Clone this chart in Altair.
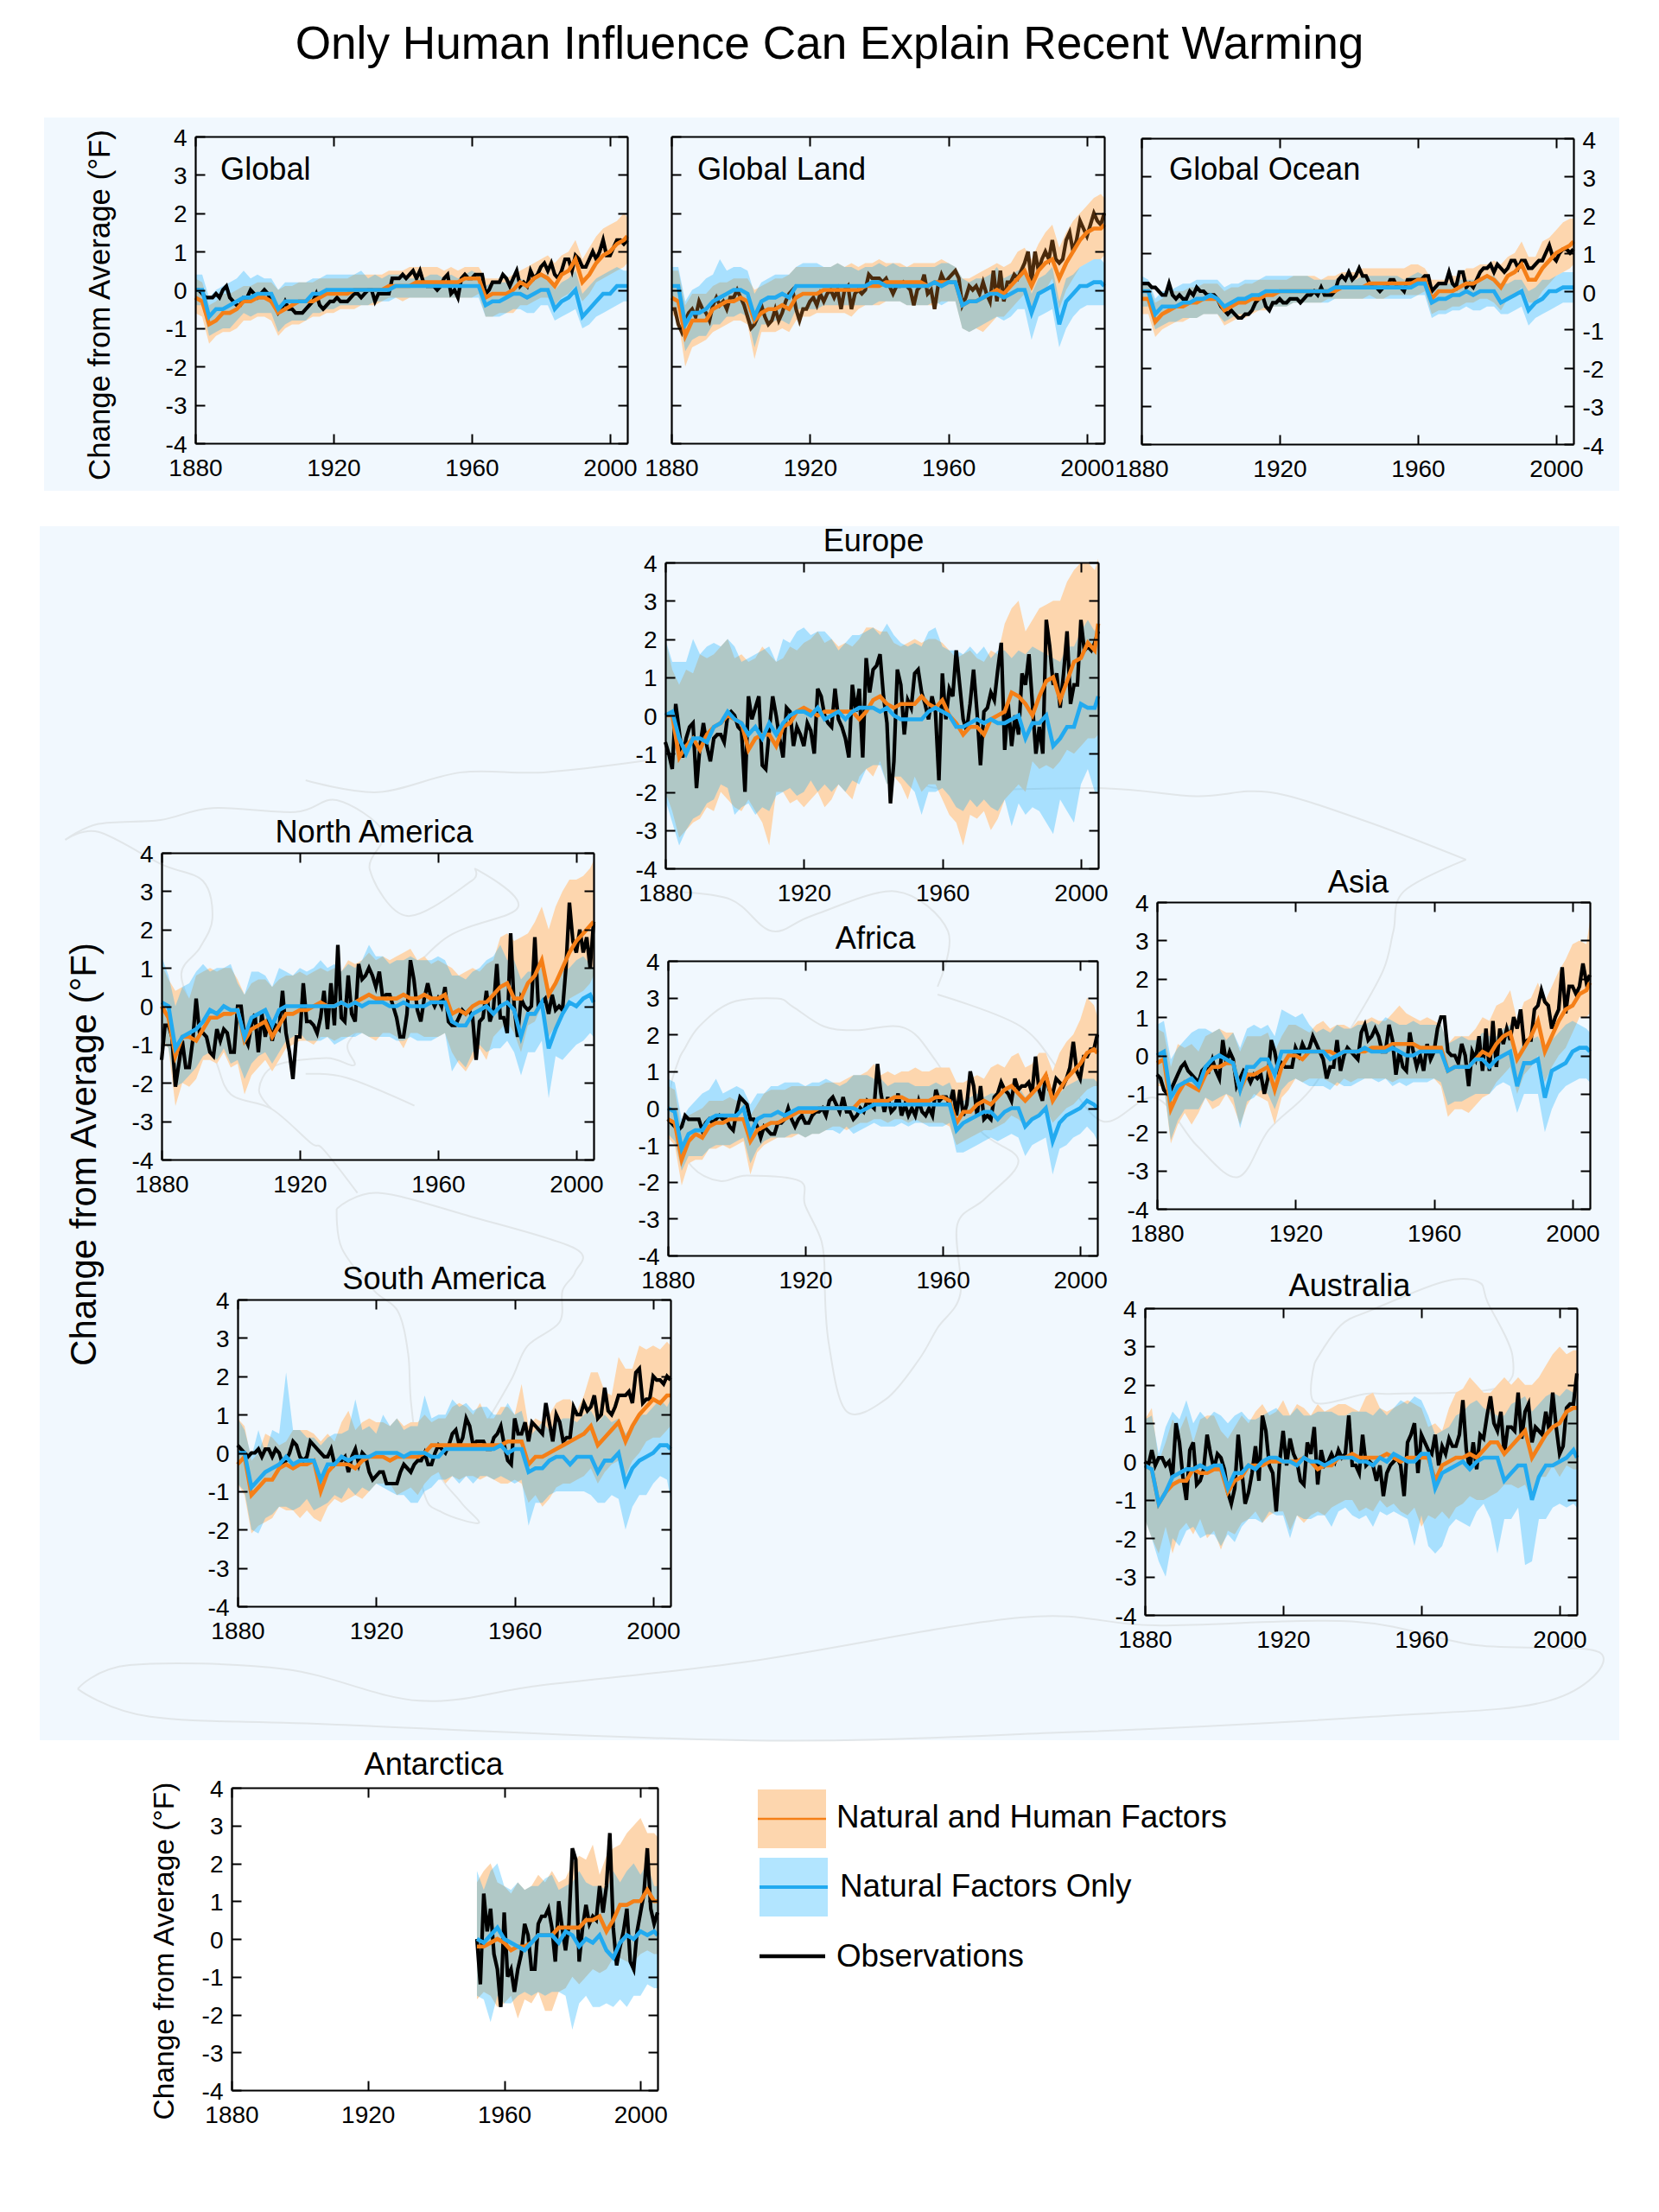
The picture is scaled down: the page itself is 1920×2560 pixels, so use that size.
import altair as alt, pandas as pd

FONT = "Liberation Sans"
M = 8
W, H = 1904, 2544
TITLE = "Only Human Influence Can Explain Recent Warming"
YLAB = "Change from Average (°F)"

# all values in tenths of a degree F; model series and bands every 2 years (last point 2005), observations yearly
GLOBAL_OBS=[0,0,-1,-2,-2,-2,-1,-2,0,1,-2,-3,-4,-4,-2,-2,0,-1,-2,-1,0,-1,-3,-4,-6,-5,-3,-5,-5,-6,-6,-6,-5,-4,-3,-1,-4,-5,-4,-3,-3,-2,-3,-3,-3,-2,-1,-1,-2,-1,0,0,-3,-1,-1,-1,-1,3,3,3,4,3,4,5,3,5,2,1,1,1,0,1,3,4,-1,0,-2,3,4,3,3,4,4,4,-1,0,2,2,2,4,3,1,3,5,1,2,1,5,3,4,6,7,5,7,4,3,5,8,8,5,9,8,6,6,8,10,8,10,13,9,9,11,13,13,12,13]
GLOBAL_OL=[-2,-3,-9,-8,-6,-6,-5,-3,-3,-2,-2,-3,-6,-5,-4,-3,-3,-3,-2,-1,-1,-1,-1,0,0,0,0,0,1,1,1,1,2,2,2,2,2,2,2,3,3,3,-2,-1,-1,-1,0,2,1,3,4,3,1,4,5,8,2,4,7,9,10,12,13,14]
GLOBAL_BL=[0,0,-7,-5,-5,-4,-3,-2,-2,-1,-1,-1,-5,-3,-3,-3,-3,-1,-1,0,0,0,0,0,0,0,0,0,0,1,1,1,1,1,1,1,1,1,1,1,1,1,-4,-3,-3,-2,-1,-1,-2,-1,0,0,-5,-3,-2,0,-7,-5,-3,-1,-1,1,1,1]
GLOBAL_OH=[3,2,-4,-3,-1,-1,0,1,1,2,2,2,0,1,1,2,2,2,3,3,3,3,3,4,4,4,4,4,5,5,5,6,6,6,6,6,5,6,5,6,6,6,3,3,3,3,4,5,6,7,8,9,7,9,10,13,8,11,14,16,17,18,20,19]
GLOBAL_OO=[-6,-7,-14,-12,-11,-11,-10,-8,-8,-7,-7,-8,-12,-10,-9,-9,-8,-7,-7,-6,-6,-5,-5,-5,-4,-4,-4,-3,-2,-2,-3,-2,-2,-2,-2,-2,-2,-2,-2,-2,-2,-1,-7,-7,-6,-6,-6,-4,-4,-3,-2,-2,-4,-2,-1,1,-3,-1,2,3,4,5,6,7]
GLOBAL_BH=[4,4,-2,0,1,2,3,5,3,4,3,3,0,2,2,2,2,3,3,4,4,4,4,4,5,3,4,3,4,4,4,3,3,3,4,4,3,4,3,4,5,4,1,2,2,2,3,3,2,3,4,4,0,2,3,5,-1,1,3,4,5,6,5,5]
GLOBAL_BO=[-4,-4,-12,-11,-10,-10,-8,-6,-7,-6,-6,-6,-11,-9,-8,-8,-8,-6,-6,-5,-5,-4,-4,-4,-4,-4,-3,-3,-3,-2,-2,-2,-2,-2,-2,-2,-2,-2,-2,-2,-2,-2,-7,-7,-7,-6,-5,-5,-6,-6,-4,-4,-8,-7,-6,-5,-10,-9,-7,-6,-5,-4,-3,-3]

LAND_OBS=[-5,-5,-9,-11,-8,-6,-5,-7,-3,-5,-6,-8,-4,-2,-4,-3,-5,-2,-2,0,-2,-4,-7,-10,-9,-7,-4,-7,-9,-8,-5,-8,-6,-3,-1,0,-5,-8,-5,-5,-3,-2,-4,-1,-3,-1,0,-2,0,-5,0,1,-5,-1,0,-1,0,4,3,3,3,2,3,1,-1,1,1,2,1,0,-4,0,1,4,-1,0,-5,1,4,2,3,4,5,3,-4,-2,1,0,1,-1,2,-1,-3,5,-3,5,-3,2,2,4,3,5,7,10,2,10,5,8,10,8,13,8,7,8,13,15,10,13,18,16,14,17,20,18,17,20]
LAND_OL=[-2,-3,-12,-8,-8,-8,-5,-4,-3,-3,-2,-3,-8,-6,-5,-5,-4,-5,-2,-1,-1,-1,0,0,0,0,0,0,1,1,1,2,2,2,2,2,2,1,2,2,2,2,-4,-3,-3,-2,-1,0,-1,1,3,5,1,5,7,8,3,7,10,13,15,16,16,17]
LAND_BL=[1,1,-9,-6,-6,-5,-3,-2,-1,0,0,-1,-7,-3,-2,-2,-1,-2,1,1,1,1,1,1,1,1,1,1,1,2,2,1,1,1,1,1,1,1,2,1,2,2,-4,-3,-3,-2,-1,-1,-2,-1,0,0,-6,-1,0,1,-9,-3,-1,1,1,2,2,1]
LAND_OH=[5,5,-4,-1,-1,-1,1,2,2,3,3,3,0,1,2,3,3,4,6,6,6,6,6,6,7,6,7,6,7,7,8,7,7,7,6,7,7,7,7,8,7,6,3,3,4,5,6,7,6,7,10,11,8,12,15,17,11,15,18,20,22,24,25,24]
LAND_OO=[-6,-8,-20,-15,-14,-13,-11,-10,-9,-8,-8,-9,-18,-11,-11,-11,-10,-11,-8,-7,-7,-6,-6,-6,-6,-6,-7,-5,-4,-4,-4,-3,-3,-3,-4,-4,-4,-4,-4,-3,-3,-3,-10,-11,-10,-11,-9,-7,-7,-5,-3,-1,-5,-1,0,3,-5,0,3,6,7,8,8,9]
LAND_BH=[6,6,-3,0,1,3,4,8,5,6,6,5,-1,2,3,4,4,4,6,7,7,7,6,6,7,6,6,5,6,6,7,6,7,6,6,6,6,6,6,7,7,6,3,2,3,3,4,6,3,4,5,6,-1,3,4,6,-3,3,4,6,7,8,8,7]
LAND_BO=[-4,-5,-16,-13,-12,-12,-9,-9,-7,-7,-6,-7,-15,-9,-9,-8,-8,-9,-5,-5,-5,-5,-4,-4,-4,-4,-4,-4,-4,-4,-3,-3,-3,-3,-4,-4,-4,-4,-3,-4,-3,-3,-10,-11,-10,-9,-8,-7,-8,-7,-5,-5,-13,-7,-6,-5,-15,-10,-7,-5,-4,-4,-4,-4]

OCEAN_OBS=[2,2,2,1,1,0,-1,-1,2,-1,-2,-1,-2,-2,0,-1,1,0,0,-1,-1,-1,-2,-4,-5,-6,-5,-6,-7,-7,-6,-6,-5,-3,-2,-1,-4,-5,-3,-3,-2,-3,-3,-2,-2,-2,-3,-2,-1,-1,0,-1,1,-1,-1,-1,0,3,4,3,5,3,4,6,4,4,2,1,1,0,1,1,3,3,1,1,0,3,3,3,3,3,4,4,0,1,2,2,2,5,2,1,5,5,1,2,1,3,5,6,6,7,5,7,6,5,6,8,8,6,8,8,6,6,7,8,8,10,12,9,8,10,11,11,10,11]
OCEAN_OL=[-2,-2,-8,-6,-5,-4,-4,-3,-3,-2,-2,-2,-5,-4,-3,-3,-2,-2,-1,-1,0,0,0,0,0,0,0,0,0,1,1,1,1,2,2,2,2,2,2,2,3,3,-2,0,0,0,1,2,2,3,4,3,1,4,5,7,3,3,6,8,10,11,12,13]
OCEAN_BL=[0,0,-6,-4,-4,-4,-3,-3,-2,-2,-1,-2,-4,-3,-2,-2,-1,-1,0,0,0,0,0,0,0,0,0,0,1,1,1,1,1,1,1,1,1,1,1,1,2,2,-3,-2,-2,-1,-1,0,-1,0,0,0,-3,-2,-1,0,-5,-3,-2,0,0,1,1,1]
OCEAN_OH=[2,2,-3,-2,0,0,0,1,1,2,2,2,0,1,1,2,2,3,3,3,3,3,4,4,4,4,3,4,4,5,5,5,6,6,6,6,6,6,6,7,7,6,3,3,3,4,4,6,6,7,7,8,7,9,10,13,9,9,13,14,16,18,19,19]
OCEAN_OO=[-6,-6,-12,-10,-9,-8,-8,-7,-7,-6,-6,-6,-9,-8,-7,-7,-6,-5,-5,-4,-4,-4,-3,-3,-3,-3,-3,-2,-2,-2,-2,-2,-2,-1,-2,-2,-1,-1,-1,-1,-1,0,-6,-5,-5,-4,-4,-3,-3,-2,-2,-3,-5,-2,-1,1,-3,-3,0,2,4,5,6,7]
OCEAN_BH=[4,3,-2,0,0,1,2,2,3,3,3,3,1,2,2,3,3,3,4,4,4,4,4,4,4,3,3,3,3,4,4,3,4,4,4,4,4,4,3,4,5,4,1,2,2,2,3,3,3,3,4,4,2,2,3,3,0,1,3,3,4,5,5,5]
OCEAN_BO=[-4,-4,-10,-9,-8,-8,-7,-7,-7,-6,-6,-6,-8,-7,-6,-6,-5,-5,-4,-4,-4,-4,-3,-3,-3,-3,-3,-3,-2,-2,-2,-2,-2,-2,-2,-2,-2,-2,-2,-2,-1,-1,-7,-6,-6,-5,-5,-4,-5,-5,-4,-4,-6,-6,-5,-4,-9,-7,-6,-5,-4,-3,-3,-3]

EUROPE_OBS=[-7,-10,-14,3,-4,-11,-6,-3,-2,-19,-8,-2,-8,-12,-6,-5,-5,-7,0,1,0,-3,-4,-20,5,-1,2,5,-13,-14,-4,5,0,-6,-11,2,1,-8,-3,-5,-8,-2,-4,-10,7,5,0,-2,-3,7,-1,-3,-6,-11,8,1,7,-11,15,6,12,13,16,5,-2,-23,-12,12,8,-5,4,2,11,12,6,3,-1,5,1,-17,11,-1,7,5,17,8,-1,-4,3,12,1,-13,1,2,6,4,12,19,-9,3,-8,0,-5,11,8,16,3,-10,-3,-10,25,18,8,11,2,11,22,3,8,8,25,17,18,17,19,22]
EUROPE_OL=[0,0,-11,-8,-6,-9,-5,-3,-2,0,-1,-2,-9,-6,-5,-5,-8,-3,-2,1,2,1,0,1,1,1,1,1,-1,1,4,5,3,2,3,3,3,5,3,2,4,0,-2,-5,-3,-3,-5,-1,0,1,6,5,3,0,5,9,10,4,9,14,15,19,17,24]
EUROPE_BL=[0,1,-6,-10,-6,-6,-7,-3,-2,1,-1,-2,-5,-3,-6,-2,-5,-2,0,1,1,0,2,-1,0,1,-1,1,2,2,2,1,2,0,-1,-1,-1,-1,1,2,1,0,-3,-3,-2,-1,-2,-1,-2,-2,-1,0,-6,-2,-2,0,-8,-6,-3,-3,3,2,2,5]
EUROPE_OH=[20,12,8,12,11,16,15,16,18,20,15,16,14,15,18,16,14,15,18,17,19,20,22,19,20,18,19,18,20,23,23,22,22,19,18,19,20,19,20,20,19,17,15,16,17,15,14,17,16,24,28,30,22,25,28,29,30,30,35,38,40,40,38,41]
EUROPE_OO=[-20,-25,-32,-30,-28,-27,-24,-25,-20,-22,-24,-25,-22,-25,-28,-34,-20,-20,-23,-22,-24,-22,-20,-24,-22,-18,-20,-22,-16,-14,-16,-12,-18,-16,-18,-22,-16,-20,-18,-18,-22,-26,-28,-34,-26,-27,-25,-30,-27,-22,-20,-18,-20,-12,-14,-13,-14,-12,-9,-10,-8,-6,-6,-5]
EUROPE_BH=[20,14,14,14,20,16,18,19,18,20,18,14,15,16,17,18,14,20,19,22,23,21,22,22,20,17,19,21,21,22,23,21,24,21,19,18,19,18,22,23,18,17,17,16,18,16,18,15,17,17,15,17,16,18,17,16,15,14,18,18,22,25,22,25]
EUROPE_BO=[-22,-28,-34,-30,-27,-26,-23,-22,-18,-19,-26,-24,-23,-26,-24,-25,-21,-20,-19,-21,-20,-17,-20,-18,-20,-18,-20,-17,-18,-14,-13,-13,-18,-16,-16,-18,-20,-26,-20,-20,-19,-21,-24,-25,-22,-24,-22,-24,-25,-22,-29,-23,-26,-24,-25,-28,-31,-22,-25,-28,-18,-14,-20,-20]

NAM_OBS=[-14,-5,-5,-8,-21,-15,-9,-16,-16,-9,2,-7,-7,-8,-12,-13,-6,-9,-6,-7,-12,-12,0,0,-8,-10,-5,-2,-12,-2,-8,-3,-9,-5,-6,4,-7,-12,-19,-8,-8,6,-4,-4,-5,-7,-3,4,-6,6,-5,16,-3,-4,8,-2,-4,11,7,8,10,8,5,9,2,3,3,0,-3,-8,-8,-2,12,7,-1,-4,2,6,2,0,2,0,5,-4,-5,-5,-3,-1,-2,-1,-3,-14,-4,-3,4,-4,-1,11,-3,-3,-7,19,0,-8,2,0,-1,0,18,0,1,2,-2,3,-1,0,-1,10,27,17,14,20,14,18,10,22]
NAM_OL=[0,-3,-13,-8,-8,-9,-6,-3,-3,-2,-2,-1,-9,-6,-5,-4,-8,-5,-2,-2,-1,-1,0,1,0,0,1,0,1,2,3,2,2,2,2,3,2,2,3,2,2,3,-2,-1,-2,0,1,1,3,5,6,2,2,6,8,12,3,6,10,14,17,19,21,22]
NAM_BL=[1,0,-11,-8,-7,-6,-4,-1,-2,0,-1,-1,-8,-3,-2,-1,-5,-1,0,0,0,0,0,0,0,0,1,0,1,0,1,1,1,0,0,1,0,0,0,1,1,1,-4,-5,-5,-2,-1,0,-2,0,1,-1,-8,-2,-2,1,-11,-6,-2,1,0,2,3,1]
NAM_OH=[11,7,4,5,2,8,9,10,9,10,10,7,3,6,7,7,5,7,8,8,9,8,9,10,9,10,9,12,11,12,14,12,13,12,13,14,15,12,13,11,12,11,10,8,9,10,9,11,12,18,19,17,18,19,22,26,20,26,30,33,33,34,36,38]
NAM_OO=[-9,-11,-26,-20,-21,-19,-14,-14,-15,-12,-16,-15,-23,-18,-16,-14,-17,-14,-11,-10,-9,-9,-10,-8,-8,-9,-8,-8,-7,-7,-8,-9,-7,-7,-8,-11,-7,-7,-8,-8,-8,-7,-12,-15,-17,-14,-11,-14,-8,-6,-4,-7,-12,-5,-4,0,-8,-5,-2,2,3,4,6,8]
NAM_BH=[13,8,0,5,6,9,11,9,10,10,11,6,3,9,9,8,5,10,9,8,10,9,10,12,10,11,9,11,10,12,16,13,13,11,12,12,13,12,12,12,13,12,8,8,7,9,10,12,13,16,12,12,7,9,9,10,3,6,9,10,12,13,11,10]
NAM_BO=[-8,-11,-21,-20,-18,-16,-13,-12,-14,-11,-15,-14,-19,-15,-13,-12,-15,-12,-9,-8,-7,-9,-9,-9,-8,-10,-9,-8,-8,-7,-8,-8,-8,-8,-9,-9,-8,-9,-9,-9,-8,-7,-17,-14,-16,-12,-10,-12,-11,-11,-9,-12,-18,-12,-12,-9,-24,-13,-14,-12,-10,-9,-7,-8]

AFRICA_OBS=[-3,-4,-5,-6,-5,-2,-3,-3,-3,-3,-6,-4,-3,-4,-3,-2,-3,-3,-5,-6,-1,3,2,1,-3,-3,-5,-8,-5,-6,-7,-7,-4,-4,-3,0,-3,-5,-3,-2,-4,-4,-2,-1,-1,0,-2,2,3,1,-1,3,-1,-1,-3,-2,0,-1,2,1,0,12,4,-1,3,-1,0,4,-2,1,-2,0,-2,2,-1,-2,0,-2,5,2,3,3,1,5,-2,5,-2,1,10,6,-2,6,-3,-2,-3,3,4,7,5,4,2,8,5,6,6,7,4,14,5,2,9,5,4,8,7,6,8,11,18,10,8,14,14,16,16,20]
AFRICA_OL=[-3,-4,-14,-9,-7,-8,-5,-4,-4,-3,-3,-3,-9,-6,-5,-4,-4,-3,-2,-1,-1,-1,0,0,0,0,0,0,2,2,2,2,2,3,3,2,2,2,2,3,3,2,-4,-1,-1,1,2,1,3,5,6,4,2,4,6,9,2,5,8,10,12,15,16,15]
AFRICA_BL=[0,-1,-11,-7,-6,-6,-3,-2,-2,-2,-2,0,-7,-3,-2,-2,-1,-2,-1,0,0,0,0,0,0,0,0,0,-1,0,1,1,1,1,1,1,1,1,1,1,1,1,-6,-4,-3,-2,-1,-1,-3,-1,0,0,-5,-3,-2,0,-9,-4,-2,-1,0,2,1,0]
AFRICA_OH=[6,5,-6,-2,-1,0,2,2,2,3,2,3,-2,1,4,5,5,5,6,6,6,6,6,7,7,7,8,9,9,10,12,9,10,9,10,10,11,10,10,11,11,11,7,7,8,9,8,11,12,11,14,15,11,12,15,15,10,15,18,20,24,30,28,25]
AFRICA_OO=[-8,-10,-21,-15,-14,-14,-11,-11,-10,-11,-10,-9,-18,-12,-10,-9,-8,-8,-8,-7,-8,-7,-7,-6,-5,-5,-6,-5,-4,-4,-3,-3,-4,-3,-3,-4,-3,-4,-4,-4,-4,-5,-10,-9,-8,-7,-6,-6,-5,-4,-2,-3,-5,-3,-2,0,-4,-2,0,1,3,5,6,6]
AFRICA_BH=[8,7,-3,0,2,4,5,8,4,5,6,5,1,4,4,6,6,7,7,7,6,7,7,8,7,6,7,9,9,9,8,8,6,7,7,7,6,6,6,7,6,7,2,2,3,4,3,4,4,5,6,6,3,5,6,7,3,4,6,7,8,8,8,7]
AFRICA_BO=[-7,-9,-17,-13,-13,-13,-11,-10,-10,-10,-9,-8,-15,-11,-9,-8,-8,-8,-7,-7,-8,-7,-7,-6,-6,-7,-5,-7,-6,-5,-4,-5,-5,-5,-4,-5,-4,-4,-5,-5,-5,-4,-12,-12,-11,-10,-9,-8,-9,-8,-7,-8,-13,-10,-9,-8,-18,-11,-10,-8,-7,-5,-7,-9]

ASIA_OBS=[-5,-6,-9,-10,-9,-7,-5,-3,-2,-4,-5,-6,-7,-4,-3,-4,-1,-4,-6,4,-2,1,-1,-8,-6,-4,-5,-7,-5,-6,-5,-10,-6,4,1,-4,-2,-3,-3,-3,2,0,3,1,2,5,3,1,-1,-6,-3,-3,4,-4,0,2,1,0,-1,6,8,4,5,7,5,1,1,8,4,-5,1,-3,-4,6,1,-3,0,-4,3,-1,1,7,10,10,1,0,0,-2,3,0,-8,1,-1,5,-4,7,-4,9,-3,7,3,7,4,10,7,12,3,4,4,12,13,17,14,13,7,10,12,23,11,18,18,16,18,24,19,21]
ASIA_OL=[-2,-1,-14,-10,-7,-8,-9,-5,-3,-3,-2,-2,-9,-5,-5,-4,-3,-9,-3,0,0,-1,1,1,1,1,0,1,1,1,1,2,2,2,3,3,3,3,2,2,2,2,-4,-3,-3,-3,-1,1,0,3,5,6,-1,2,5,9,1,5,9,12,13,16,17,19]
ASIA_BL=[0,1,-11,-8,-7,-6,-8,-3,-1,0,-1,-2,-9,-3,-3,-1,-1,-5,1,1,1,1,1,1,1,-1,0,1,1,1,2,1,1,1,2,1,0,0,1,1,1,1,-4,-3,-3,-3,-1,-1,-3,-1,0,1,-8,-2,-2,-1,-11,-4,-3,-2,1,2,2,1]
ASIA_OH=[7,6,-3,3,2,3,1,5,6,7,6,6,1,5,5,5,6,1,5,8,8,7,6,8,9,7,8,8,7,9,9,10,9,9,11,13,11,10,9,10,9,8,3,5,5,5,7,10,9,13,14,17,9,14,15,19,14,18,22,25,29,30,29,35]
ASIA_OO=[-8,-8,-23,-18,-15,-18,-15,-11,-14,-13,-10,-13,-18,-13,-10,-11,-12,-18,-11,-9,-6,-7,-6,-6,-6,-7,-8,-6,-7,-6,-6,-6,-6,-6,-7,-6,-6,-6,-6,-6,-6,-8,-16,-14,-14,-15,-13,-11,-10,-7,-5,-3,-10,-5,-3,0,-7,-3,0,2,6,10,10,11]
ASIA_BH=[8,9,-1,2,4,6,7,7,6,7,4,6,2,7,8,7,8,5,12,11,10,11,8,6,7,6,8,7,7,8,8,9,8,10,9,8,8,9,8,8,8,8,3,4,5,4,4,6,5,5,7,8,0,4,4,5,1,4,6,8,9,8,7,6]
ASIA_BO=[-7,-8,-22,-17,-14,-14,-14,-11,-12,-11,-10,-11,-19,-12,-11,-9,-10,-14,-9,-7,-6,-7,-8,-8,-8,-9,-7,-8,-8,-7,-6,-6,-7,-6,-8,-7,-8,-7,-7,-7,-6,-7,-13,-12,-12,-11,-10,-10,-10,-8,-7,-8,-15,-10,-10,-10,-20,-14,-10,-8,-7,-6,-6,-7]

SAM_OBS=[2,1,0,-1,0,0,1,-1,1,1,-1,1,0,-3,-2,0,3,2,-1,-2,-1,3,2,1,0,-1,-1,1,-3,-2,-2,-1,-5,-1,1,-3,0,-1,-5,-7,-6,-5,-5,-8,-8,-8,-8,-5,-3,-4,-5,-3,-2,-2,0,-3,-3,0,2,1,0,2,5,6,2,4,9,7,2,3,3,3,1,1,4,5,7,2,-2,-3,9,5,5,8,3,8,7,6,5,13,8,3,10,8,3,4,4,12,10,10,13,11,12,15,9,10,17,11,10,12,15,15,15,16,13,21,22,13,14,14,20,19,19,18,20,19]
SAM_OL=[-3,-1,-11,-9,-7,-7,-4,-3,-4,-3,-3,-2,-10,-5,-3,-3,-3,-4,-2,-1,-1,-1,-2,-1,-1,-1,-1,0,2,2,2,2,2,2,2,2,2,2,2,3,3,3,-3,-1,-1,0,1,2,3,4,5,7,2,4,6,8,3,7,10,12,14,13,15,15]
SAM_BL=[0,0,-9,-7,-5,-4,-3,-1,-3,-2,-2,-2,-7,-3,-3,-1,-2,-1,-1,-1,0,0,0,0,-1,0,0,0,-1,-1,1,1,1,1,1,1,1,1,2,0,1,1,-5,-4,-4,-2,-1,-1,-3,-1,-1,-1,-5,-2,-2,0,-8,-4,-2,-1,0,2,2,1]
SAM_OH=[9,7,-2,0,5,4,2,3,6,6,6,5,3,5,3,8,11,6,8,9,8,8,7,9,7,8,8,10,8,9,9,12,13,12,10,13,9,9,12,12,10,18,7,9,8,10,13,14,14,11,15,21,21,16,15,25,22,22,28,27,28,27,29,28]
SAM_OO=[-8,-11,-21,-19,-18,-17,-14,-15,-15,-17,-15,-17,-18,-14,-12,-13,-12,-11,-12,-10,-8,-8,-8,-11,-10,-9,-11,-8,-6,-5,-8,-6,-7,-6,-6,-7,-6,-7,-8,-8,-7,-8,-13,-11,-14,-12,-9,-8,-8,-7,-6,-4,-8,-5,-3,-2,-6,-2,0,3,4,4,6,7]
SAM_BH=[9,6,-1,6,0,6,5,21,6,6,4,4,2,4,5,5,6,14,6,7,5,10,7,9,6,7,7,15,9,10,10,14,12,13,11,12,12,10,10,13,10,11,4,6,8,6,8,9,9,8,10,11,8,10,8,9,5,7,10,10,12,14,12,14]
SAM_BO=[-8,-10,-20,-21,-17,-16,-14,-14,-15,-14,-12,-15,-14,-13,-11,-12,-9,-11,-9,-10,-8,-9,-10,-11,-11,-13,-13,-10,-9,-7,-7,-6,-8,-6,-8,-6,-6,-7,-6,-7,-8,-7,-19,-13,-13,-11,-10,-10,-10,-10,-10,-11,-13,-13,-11,-12,-20,-14,-11,-11,-8,-6,-7,-12]

AUS_OBS=[0,-1,3,-1,1,1,-1,0,-4,10,5,-4,-10,3,5,-6,-5,-2,7,2,-2,2,1,-2,-8,-11,-7,7,-2,-11,-8,-3,4,-5,12,8,-1,-3,-13,0,8,-1,6,2,0,-5,-6,5,2,9,-6,3,-1,0,2,0,3,1,2,12,-1,-1,-3,7,-1,0,-1,-5,-1,-9,-3,-1,0,1,-1,-9,5,7,10,-3,7,5,3,2,7,-1,4,2,6,4,4,7,16,3,-2,5,-2,7,6,12,17,10,8,13,2,9,9,8,18,6,13,15,5,9,8,7,13,8,18,9,2,4,14,15,15,23]
AUS_OL=[-1,-2,-11,-8,-6,-5,-5,-2,-3,-3,-2,-2,-8,-5,-4,-1,-1,-1,0,0,0,0,0,1,0,-2,-1,-1,1,1,2,1,1,1,1,2,1,0,1,1,1,1,-5,-1,0,1,1,2,1,3,5,5,2,4,6,8,1,4,7,9,10,13,14,14]
AUS_BL=[-1,-2,-11,-8,-4,-3,-2,-2,-1,-2,-1,-1,-7,-3,-3,-1,-2,0,1,1,0,0,-1,1,0,0,-1,0,1,1,1,0,0,-1,1,0,2,1,0,0,2,2,-7,-3,-2,-1,0,-2,0,1,1,1,-5,-3,-1,-1,-10,-4,-1,-1,0,1,3,1]
AUS_OH=[11,14,0,5,11,8,12,5,11,12,12,8,6,9,12,10,13,15,12,13,16,12,15,14,12,15,13,14,15,15,14,13,17,18,14,13,14,15,16,15,14,9,10,8,14,18,19,22,20,18,18,20,22,20,22,20,20,22,25,28,30,28,29,29]
AUS_OO=[-15,-20,-24,-17,-24,-18,-16,-19,-15,-20,-18,-23,-18,-19,-16,-15,-13,-16,-14,-13,-13,-18,-14,-16,-14,-13,-14,-12,-11,-10,-10,-13,-12,-13,-10,-12,-11,-13,-14,-12,-17,-14,-15,-13,-15,-12,-11,-9,-10,-10,-9,-8,-6,-6,-7,-6,-10,-4,-4,-1,-4,-1,-2,-2]
AUS_BH=[11,12,2,9,13,11,16,10,13,11,13,12,10,12,13,11,11,12,13,14,12,12,14,12,12,13,13,13,12,12,13,13,13,12,14,12,14,16,15,17,16,12,7,8,9,12,13,15,16,14,13,12,12,15,16,17,13,15,17,18,17,19,18,16]
AUS_BO=[-15,-20,-26,-30,-20,-22,-18,-17,-20,-19,-19,-22,-19,-21,-17,-15,-15,-16,-13,-14,-14,-20,-14,-15,-15,-14,-14,-17,-13,-12,-14,-15,-14,-17,-13,-14,-13,-14,-15,-22,-14,-22,-24,-22,-17,-15,-16,-17,-13,-11,-15,-24,-15,-15,-12,-27,-26,-15,-15,-12,-11,-12,-11,-12]

ANT_OBS=[0,-12,12,2,8,-4,-8,-18,7,-10,-8,-14,-8,-4,4,1,-8,-8,4,6,6,8,3,-6,10,3,-3,4,24,21,-6,3,9,4,6,5,14,7,14,28,3,-7,-2,2,8,-6,-8,2,7,12,24,8,4,7]
ANT_OL=[-2,-2,-1,0,-1,-3,-2,-2,-1,1,1,1,3,3,3,3,5,5,6,2,5,9,9,10,10,13,10,10]
ANT_BL=[0,-1,1,3,0,-1,-2,-3,-1,1,1,1,-1,2,1,-2,0,-1,1,-3,-5,-1,1,0,2,1,2,1]
ANT_OH=[15,18,20,15,14,12,15,13,14,17,15,18,15,16,20,22,21,25,17,22,24,25,28,30,32,28,28,27]
ANT_OO=[-16,-14,-15,-18,-17,-15,-21,-16,-17,-14,-19,-19,-14,-13,-10,-12,-10,-8,-9,-8,-5,-5,-6,-6,-4,-3,-4,-4]
ANT_BH=[18,13,18,20,14,13,15,13,14,14,16,17,13,14,15,18,15,14,14,13,18,15,18,20,17,20,14,14]
ANT_BO=[-15,-16,-22,-15,-17,-17,-15,-14,-15,-14,-15,-14,-14,-15,-24,-17,-15,-18,-18,-17,-18,-16,-18,-15,-15,-12,-13,-13]

# name, series, box in page pixels (left, right, top, bottom), y label side, obs colour, title position, start year
PANELS=[
 ("Global",(GLOBAL_OBS,GLOBAL_OL,GLOBAL_BL,GLOBAL_OH,GLOBAL_OO,GLOBAL_BH,GLOBAL_BO),(226,726,158,513),"left","black",(255,208,"left"),1880),
 ("Global Land",(LAND_OBS,LAND_OL,LAND_BL,LAND_OH,LAND_OO,LAND_BH,LAND_BO),(777,1278,158,513),None,"#4a2a0c",(807,208,"left"),1880),
 ("Global Ocean",(OCEAN_OBS,OCEAN_OL,OCEAN_BL,OCEAN_OH,OCEAN_OO,OCEAN_BH,OCEAN_BO),(1321,1821,160,514),"right","black",(1353,208,"left"),1880),
 ("Europe",(EUROPE_OBS,EUROPE_OL,EUROPE_BL,EUROPE_OH,EUROPE_OO,EUROPE_BH,EUROPE_BO),(770,1271,651,1005),"left","black",(1011,638,"center"),1880),
 ("North America",(NAM_OBS,NAM_OL,NAM_BL,NAM_OH,NAM_OO,NAM_BH,NAM_BO),(187,687,987,1342),"left","black",(433,975,"center"),1880),
 ("Africa",(AFRICA_OBS,AFRICA_OL,AFRICA_BL,AFRICA_OH,AFRICA_OO,AFRICA_BH,AFRICA_BO),(773,1270,1112,1453),"left","black",(1013,1098,"center"),1880),
 ("Asia",(ASIA_OBS,ASIA_OL,ASIA_BL,ASIA_OH,ASIA_OO,ASIA_BH,ASIA_BO),(1339,1840,1044,1399),"left","black",(1572,1033,"center"),1880),
 ("South America",(SAM_OBS,SAM_OL,SAM_BL,SAM_OH,SAM_OO,SAM_BH,SAM_BO),(275,776,1504,1859),"left","black",(514,1492,"center"),1880),
 ("Australia",(AUS_OBS,AUS_OL,AUS_BL,AUS_OH,AUS_OO,AUS_BH,AUS_BO),(1325,1825,1514,1869),"left","black",(1562,1500,"center"),1880),
 ("Antarctica",(ANT_OBS,ANT_OL,ANT_BL,ANT_OH,ANT_OO,ANT_BH,ANT_BO),(268,761,2069,2419),"left","black",(502,2054,"center"),1952),
]

# faint world map, map units
MAP_PARTS={
 "nam":[(38,405),(70,395),(131,436),(171,457),(180,504),(168,541),(150,574),(165,630),(183,683),(198,726),(237,744),(275,787),(287,795),(320,850)],
 "nam2":[(237,744),(225,720),(240,690),(290,680),(317,689),(311,661),(340,620),(404,530),(475,490),(436,443),(430,457),(368,501),(332,443),(345,395),(300,355),(260,370),(180,365),(130,380),(70,385),(38,405)],
 "arctic":[(270,330),(340,345),(420,320),(500,320),(600,305)],
 "cuba":[(270,700),(310,705),(375,740)],
 "sam":[(300,870),(340,850),(430,880),(530,920),(530,950),(518,973),(515,1013),(484,1043),(467,1089),(431,1165),(400,1200),(420,1240),(437,1266),(401,1252),(384,1227),(372,1118),(369,1053),(359,999),(336,973),(305,920),(300,870)],
 "afr":[(771,958),(775,1040),(792,1125),(830,1110),(862,1060),(880,1020),(902,977),(899,890),(926,857),(958,809),(920,770),(878,683),(848,642),(800,645),(770,640),(740,615),(725,605),(681,610),(650,640),(635,670),(630,683),(622,720),(625,770),(643,817),(670,835),(696,828),(747,835),(752,865),(768,911),(771,958)],
 "eur":[(620,310),(700,320),(840,310),(880,340),(1040,340),(1130,350),(1200,345),(1290,380),(1390,430)],
 "asia":[(1390,430),(1330,470),(1320,520),(1310,570),(1280,640),(1240,720),(1200,770),(1170,830),(1130,790),(1090,730),(1040,760),(1000,700),(960,640),(880,600)],
 "eur2":[(620,470),(680,480),(720,520),(760,500),(840,470),(890,520),(880,590)],
 "aus":[(1244,1064),(1269,1017),(1300,997),(1368,962),(1402,962),(1411,988),(1435,1056),(1420,1096),(1321,1103),(1294,1103),(1244,1114),(1244,1064)],
 "ant":[(50,1475),(100,1445),(250,1450),(380,1490),(500,1470),(700,1440),(960,1385),(1090,1395),(1280,1390),(1400,1420),(1520,1430),(1470,1490),(1300,1510),(1000,1530),(700,1540),(300,1520),(120,1510),(50,1475)],
}

ORANGE_BAND="#fdd6ae"; BLUE_BAND="#00aaff"; BLUE_SW="#b2e5ff"
ORANGE_LINE="#f57f17"; BLUE_LINE="#22aaf0"
one=pd.DataFrame({"year":[1880],"v":[0]})

def years(n,start,step):
    ys=[start+i*step for i in range(n)]
    if step==2 and ys[-1]>2005: ys[-1]=2005
    return ys
def txt(s,x,y,size,align="center",angle=0,baseline="alphabetic"):
    return alt.Chart(one).mark_text(text=s,font=FONT,fontSize=size,color="black",align=align,baseline=baseline,angle=angle).encode(x=alt.value(x-M),y=alt.value(y-M))

def panel(name,series,box,lab,obscol,tpos,start):
    x0,x1,y0,y1=box
    obs,ol,bl,oh,oo,bh,bo=series
    sx=alt.Scale(domain=[1880,2005],range=[x0-M,x1-M],nice=False,zero=False)
    sy=alt.Scale(domain=[-4,4],range=[y1-M,y0-M],nice=False,zero=False)
    X=alt.X("year:Q",scale=sx,axis=None)
    Y=alt.Y("v:Q",scale=sy,axis=None)
    def line(vals,step,color,w):
        d=pd.DataFrame({"year":years(len(vals),start,step),"v":[a/10 for a in vals]})
        return alt.Chart(d).mark_line(color=color,strokeWidth=w,strokeJoin="miter").encode(x=X,y=Y)
    def band(hi,lo,color,op):
        n=min(len(hi),len(lo))
        d=pd.DataFrame({"year":years(n,start,2),"v":[a/10 for a in lo[:n]],"h":[a/10 for a in hi[:n]]})
        return alt.Chart(d).mark_area(color=color,opacity=op).encode(x=X,y=Y,y2="h:Q")
    common=dict(grid=False,domainColor="black",domainWidth=2.2,tickColor="black",tickWidth=2,tickSize={"expr":"-11"},labelFont=FONT,labelFontSize=28,labelColor="black",labelOverlap=False,labelFlush=False,labelBound=False,title=None,zindex=1,labelExpr="'' + datum.value")
    xv=[1880,1920,1960,2000];yv=list(range(-4,5))
    bottom=alt.Axis(orient="bottom",offset=y1-M-H,values=xv,labelPadding=26,**common)
    top=alt.Axis(orient="top",offset=-(y0-M),values=xv,labels=False,**common)
    left=alt.Axis(orient="left",offset=-(x0-M),values=yv,labels=lab=="left",labelPadding=21,labelOffset=2,**common)
    right=alt.Axis(orient="right",offset=x1-M-W,values=yv,labels=lab=="right",labelPadding=21,labelOffset=3,**common)
    a=alt.Chart(one).mark_point(opacity=0).encode(x=alt.X("year:Q",scale=sx,axis=bottom),y=alt.Y("v:Q",scale=sy,axis=left))
    b=alt.Chart(one).mark_point(opacity=0).encode(x=alt.X("year:Q",scale=sx,axis=top),y=alt.Y("v:Q",scale=sy,axis=right))
    return alt.layer(band(oh,oo,ORANGE_BAND,1),band(bh,bo,BLUE_BAND,.3),line(obs,1,obscol,4.2),line(ol,2,ORANGE_LINE,4.6),line(bl,2,BLUE_LINE,4.6),a,b).resolve_axis(x="independent",y="independent")

def rects(x,x2,y,y2,color):
    d=pd.DataFrame({"x":[a-M for a in x],"x2":[a-M for a in x2],"y":[a-M for a in y],"y2":[a-M for a in y2]})
    return alt.Chart(d).mark_rect(color=color).encode(x=alt.X("x:Q",scale=None),x2="x2:Q",y=alt.Y("y:Q",scale=None),y2="y2:Q")

bg=rects([51,46],[1874,1874],[136,609],[568,2014],"#f1f8fe")
rows=[dict(part=k,i=i,mx=p[0],my=p[1]) for k,v in MAP_PARTS.items() for i,p in enumerate(v)]
world=alt.Chart(pd.DataFrame(rows)).mark_line(color="#e1e6e9",strokeWidth=2,interpolate="cardinal").encode(
    x=alt.X("mx:Q",scale=alt.Scale(domain=[0,1568],range=[22,1902],nice=False,zero=False),axis=None),
    y=alt.Y("my:Q",scale=alt.Scale(domain=[0,1568],range=[592,2032],nice=False,zero=False),axis=None),
    detail="part:N",order="i:Q")

def rule(x,x2,y,color,w):
    return alt.Chart(one).mark_rule(color=color,strokeWidth=w).encode(x=alt.value(x-M),x2=alt.value(x2-M),y=alt.value(y-M))
legend=[rects([877],[956],[2071],[2139],ORANGE_BAND),rects([879],[958],[2150],[2218],BLUE_SW),
        rule(877,956,2105,ORANGE_LINE,2.5),rule(879,958,2184,BLUE_LINE,4),rule(879,955,2264,"black",4.5),
        txt("Natural and Human Factors",968,2104,36.8,"left",baseline="middle"),
        txt("Natural Factors Only",972,2184,36.8,"left",baseline="middle"),
        txt("Observations",968,2265,36.8,"left",baseline="middle")]
texts=[txt(TITLE,960,52,53.2,baseline="middle"),
       txt(YLAB,117,353,34.8,angle=270,baseline="middle"),
       txt(YLAB,98,1336,42,angle=270,baseline="middle"),
       txt(YLAB,191,2258,33.5,angle=270,baseline="middle")]
for p in PANELS:
    t=p[5]
    texts.append(txt(p[0],t[0],t[1],36.2,t[2]))

chart=alt.layer(bg,world,*legend,*[panel(*p) for p in PANELS],*texts).resolve_scale(x="independent",y="independent").resolve_axis(x="independent",y="independent").properties(
    width=W,height=H,autosize=alt.AutoSizeParams(type="none"),padding=0,background="white").configure_view(stroke=None)
chart.save("out.html",embed_options={"renderer":"svg","actions":False})
